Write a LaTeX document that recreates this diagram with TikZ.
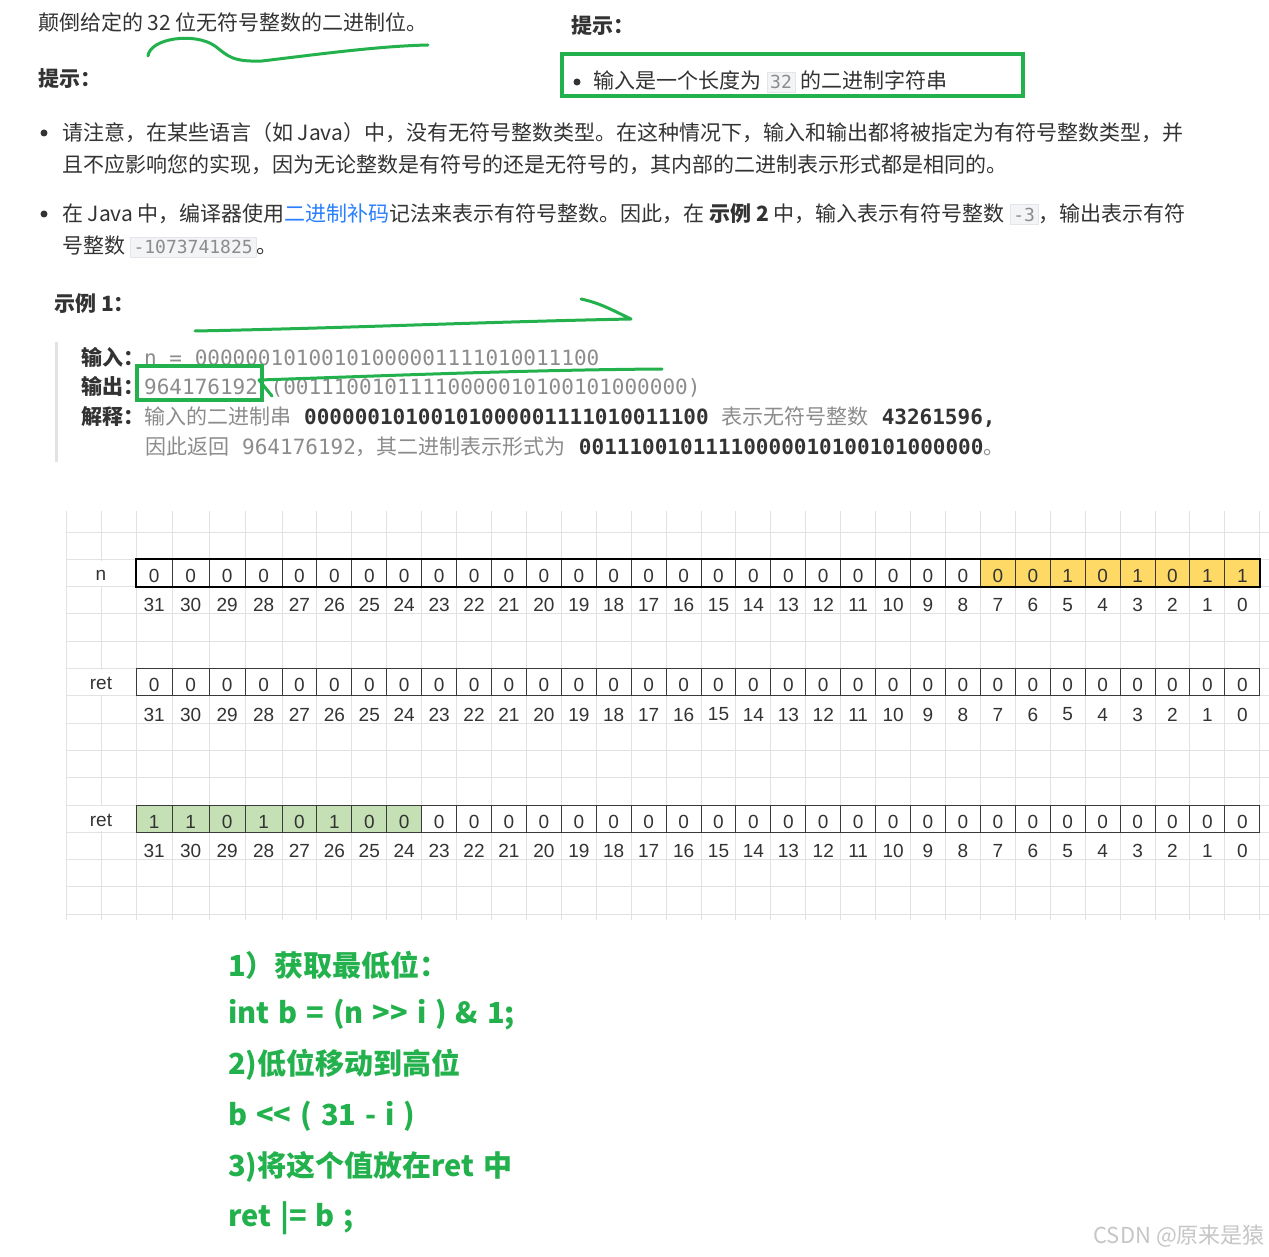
\documentclass[tikz,border=0pt]{standalone}
\usepackage{fontspec}
\setmainfont{Noto Sans CJK SC}
\setmonofont{DejaVu Sans Mono}
\newfontfamily\gridfont{Liberation Sans}
\newfontfamily\hintfont{Noto Sans CJK SC}[WordSpace=1.35]
\usepackage{xcolor}
\definecolor{ink}{HTML}{333333}
\definecolor{dim}{HTML}{8C8C8C}
\definecolor{link}{HTML}{2A7FFF}
\definecolor{penGreen}{HTML}{22B14C}
\definecolor{gridln}{HTML}{E2E2E2}
\definecolor{cellFr}{HTML}{3A3A3A}
\definecolor{cellYel}{HTML}{FFD966}
\definecolor{cellGrn}{HTML}{C5E0B4}
\definecolor{codeBg}{HTML}{F3F4F5}
\definecolor{codeFr}{HTML}{E3E5E8}
\definecolor{quoteBar}{HTML}{E2E2E2}
\definecolor{wmark}{HTML}{C6C6C6}
\usetikzlibrary{positioning,calc}
\tikzset{
  body/.style={anchor=west,inner sep=0pt,text=ink,font=\fontsize{21}{26}\selectfont},
  head/.style={body,font=\fontsize{21}{26}\selectfont\bfseries},
  dot/.style={circle,fill=ink,inner sep=0pt,minimum size=7pt},
  penline/.style={draw=penGreen,line width=3pt,line cap=round,line join=round},
  gridline/.style={draw=gridln,line width=1pt},
  bitval/.style={inner sep=0pt,text=ink,font=\gridfont\fontsize{19}{22}\selectfont},
  rowlbl/.style={bitval,fill=white,minimum width=66pt,minimum height=25pt,text height=18pt,text depth=3pt},
  hint/.style={anchor=west,inner sep=0pt,text=penGreen,font=\hintfont\fontsize{29}{34}\selectfont\bfseries}}
\newcommand\codechip[1]{{\setlength\fboxsep{3pt}\setlength\fboxrule{0.6pt}%
  \fcolorbox{codeFr}{codeBg}{\ttfamily\fontsize{18}{20}\selectfont\color{dim}#1}}}
\newcommand\mono[1]{{\ttfamily\fontsize{21}{24}\selectfont#1}}
\newcommand\gap{\hspace{13pt}}
% #1 name, #2 top y, #3 values, #4 fill, #5/#6 first/last filled column
\newcommand\bitrow[6]{%
  \foreach \v [count=\c from 0] in {#3} {
    \pgfmathsetmacro\xl{136+36.5*min(\c,4)+34.92*max(\c-4,0)}
    \pgfmathsetmacro\xr{136+36.5*min(\c+1,4)+34.92*max(\c-3,0)}
    \pgfmathtruncatemacro\bit{31-\c}
    \ifnum\c<#5 \def\f{white}\else\ifnum\c>#6 \def\f{white}\else\def\f{#4}\fi\fi
    \draw[fill=\f,draw=cellFr,line width=1pt] (\xl,#2) rectangle (\xr,{#2+27.3});
    \node[bitval] (#1v\bit) at ({(\xl+\xr)/2},{#2+16.5}) {\v};
    \node[bitval] (#1i\bit) at ({(\xl+\xr)/2},{#2+46}) {\bit};
  }}

\begin{document}
\begin{tikzpicture}[x=1pt,y=-1pt]
  \fill[white] (0,0) rectangle (1269,1257);
  \useasboundingbox (0,0) rectangle (1269,1257);

  % statement and hints
  \node[body] (title) at (38,22) {颠倒给定的 32 位无符号整数的二进制位。};
  \node[head] (tipL) at (38,79) {提示：};
  \node[head] (tipR) at (571,26) {提示：};
  \node[dot] (d0) at (577,82) {};
  \node[body,right=13pt of d0] (len32) {输入是一个长度为 \codechip{32} 的二进制字符串};
  \draw[penGreen,line width=4pt] (562,54) rectangle (1023,96);

  \node[dot] (d1) at (44,133) {};
  \node[body] (note1a) at (62,133) {请注意，在某些语言（如 Java）中，没有无符号整数类型。在这种情况下，输入和输出都将被指定为有符号整数类型，并};
  \node[body] (note1b) at (62,165) {且不应影响您的实现，因为无论整数是有符号的还是无符号的，其内部的二进制表示形式都是相同的。};
  \node[dot] (d2) at (44,214) {};
  \node[body] (note2a) at (62,214) {在 Java 中，编译器使用\textcolor{link}{二进制补码}记法来表示有符号整数。因此，在 \textbf{示例 2} 中，输入表示有符号整数 \codechip{-3}，输出表示有符};
  \node[body] (note2b) at (62,247) {号整数 \codechip{-1073741825}。};

  % example 1
  \node[head] (ex1) at (54,304) {示例 1：};
  \draw[quoteBar,line width=3pt] (56,342) -- (56,462);
  \node[body] (inp) at (81,357) {\textbf{输入：}\mono{\color{dim}n = 00000010100101000001111010011100}};
  \node[body] (outp) at (81,387) {\textbf{输出：}\mono{\color{dim}964176192 (00111001011110000010100101000000)}};
  \node[body] (expl1) at (81,417) {\textbf{解释：}\textcolor{dim}{输入的二进制串}\gap\mono{\bfseries 00000010100101000001111010011100}\gap\textcolor{dim}{表示无符号整数}\gap\mono{\bfseries 43261596,}};
  \node[body] (expl2) at (145,447) {\textcolor{dim}{因此返回\gap\mono{964176192}，其二进制表示形式为}\gap\mono{\bfseries 00111001011110000010100101000000}\textcolor{dim}{。}};

  % hand marks
  \draw[penline] (148,56) .. controls (150,38) and (195,32) .. (215,46)
    .. controls (228,56) and (232,62) .. (262,61)
    .. controls (320,54) and (380,46) .. (428,45);
  \draw[penline] (195,331) .. controls (350,328) and (480,322) .. (631,319)
    .. controls (612,310) and (600,303) .. (581,299);
  \draw[penGreen,line width=3.5pt] (137,366) rectangle (262,400);
  \draw[penline] (272,396) -- (259,380) .. controls (380,376) and (520,370) .. (662,369);

  % sheet grid
  \foreach \k in {0,...,14}
    \draw[gridline] (66,{532+27.3*\k}) -- (1269,{532+27.3*\k});
  \foreach \xg in {66,101}
    \draw[gridline] (\xg,511) -- (\xg,920);
  \foreach \c [evaluate=\c as \xg using {136+36.5*min(\c,4)+34.92*max(\c-4,0)}] in {0,...,32}
    \draw[gridline] (\xg,511) -- (\xg,920);

  \bitrow{n}{559.3}{0,0,0,0,0,0,0,0,0,0,0,0,0,0,0,0,0,0,0,0,0,0,0,0,0,0,1,0,1,0,1,1}{cellYel}{24}{31}
  \draw[black,line width=2pt] (136,559.3) rectangle (1259.8,586.6);
  \bitrow{r}{668.5}{0,0,0,0,0,0,0,0,0,0,0,0,0,0,0,0,0,0,0,0,0,0,0,0,0,0,0,0,0,0,0,0}{white}{0}{-1}
  \bitrow{s}{805}{1,1,0,1,0,1,0,0,0,0,0,0,0,0,0,0,0,0,0,0,0,0,0,0,0,0,0,0,0,0,0,0}{cellGrn}{0}{7}
  \node[rowlbl] (nLbl) at (101,573) {n};
  \node[rowlbl] (rLbl) at (101,682.2) {ret};
  \node[rowlbl] (sLbl) at (101,818.7) {ret};

  % steps
  \node[hint] (step1) at (228,965) {1）获取最低位：};
  \node[hint] (code1) at (228,1015) {int b = (n >{}> i ) \& 1;};
  \node[hint] (step2) at (228,1065) {2)低位移动到高位};
  \node[hint] (code2) at (228,1116) {b <{}< ( 31 - i )};
  \node[hint] (step3) at (228,1167) {3)将这个值放在ret 中};
  \node[hint] (code3) at (228,1218) {ret |= b ;};

  \node[anchor=east,inner sep=0pt,text=wmark,font=\fontsize{22}{24}\selectfont] (wm) at (1265,1236) {CSDN @原来是猿};
\end{tikzpicture}
\end{document}
